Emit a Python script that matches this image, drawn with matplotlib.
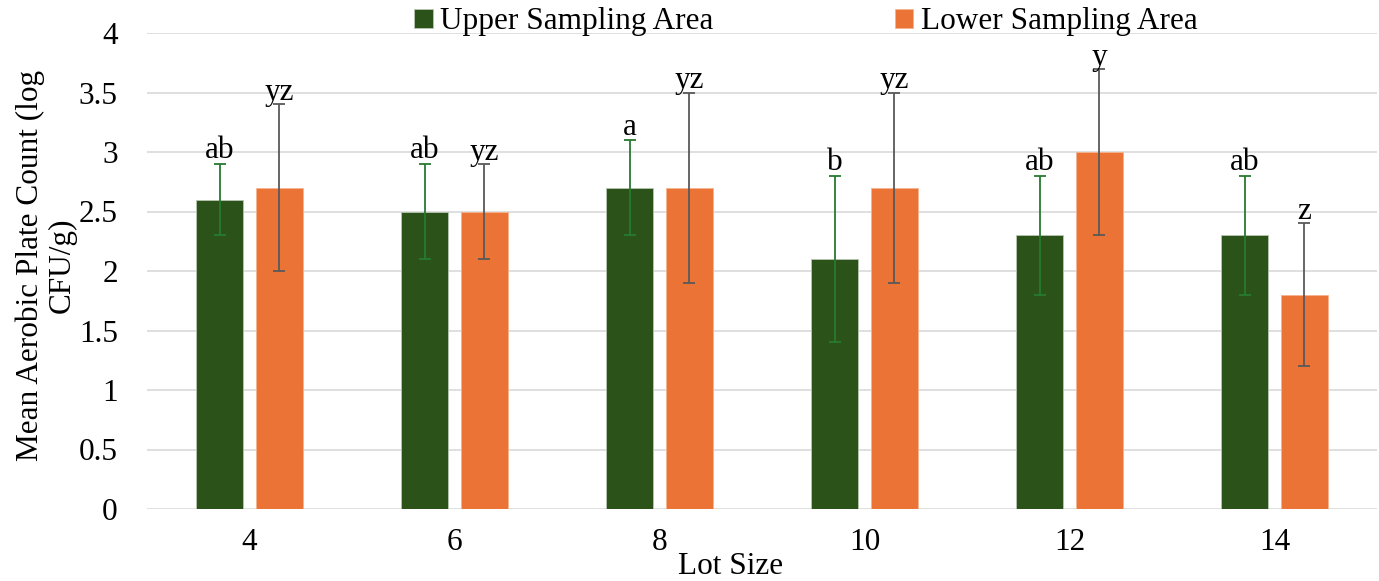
import numpy as np
import matplotlib
matplotlib.use("Agg")
import matplotlib.pyplot as plt
from matplotlib.patches import Patch
from matplotlib.ticker import FuncFormatter

lot_sizes = ["4", "6", "8", "10", "12", "14"]
upper_mean = [2.6, 2.5, 2.7, 2.1, 2.3, 2.3]
upper_err = [0.3, 0.4, 0.4, 0.7, 0.5, 0.5]
upper_letters = ["ab", "ab", "a", "b", "ab", "ab"]
lower_mean = [2.7, 2.5, 2.7, 2.7, 3.0, 1.8]
lower_err = [0.7, 0.4, 0.8, 0.8, 0.7, 0.6]
lower_letters = ["yz", "yz", "yz", "yz", "y", "z"]

GREEN = "#2A5219"
ORANGE = "#EA7335"
GREEN_ERR = "#267A2E"
GRAY_ERR = "#595959"
FS = 22.5

plt.rcParams["font.family"] = ["Liberation Serif", "DejaVu Serif"]

fig = plt.figure(figsize=(13.79, 5.81), dpi=100)
ax = fig.add_axes([147 / 1379, 72 / 581, 1230 / 1379, 476 / 581])

x = np.arange(len(lot_sizes))
w = 0.23
off = 0.145
ax.bar(x - off, upper_mean, w, color=GREEN, edgecolor="#B9C7B2", linewidth=0.6, zorder=2)
ax.bar(x + off, lower_mean, w, color=ORANGE, edgecolor="#F5B48E", linewidth=0.6, zorder=2)
ax.errorbar(x - off, upper_mean, yerr=upper_err, fmt="none", ecolor=GREEN_ERR,
            elinewidth=1.3, capsize=4.5, capthick=1.3, zorder=3)
ax.errorbar(x + off, lower_mean, yerr=lower_err, fmt="none", ecolor=GRAY_ERR,
            elinewidth=1.3, capsize=4.5, capthick=1.3, zorder=3)

# letras de significancia, justo encima del extremo superior
for xi, m, e, t in zip(x - off, upper_mean, upper_err, upper_letters):
    ax.annotate(t, (xi, m + e), xytext=(0, 4), textcoords="offset points",
                ha="center", va="baseline", fontsize=FS)
for xi, m, e, t in zip(x + off, lower_mean, lower_err, lower_letters):
    ax.annotate(t, (xi, m + e), xytext=(0, 3), textcoords="offset points",
                ha="center", va="baseline", fontsize=FS)

ax.set_xlim(-0.5, len(lot_sizes) - 0.5)
ax.set_ylim(0, 4)
ax.set_yticks(np.arange(0, 4.01, 0.5))
ax.yaxis.set_major_formatter(FuncFormatter(lambda v, p: f"{v:g}"))
ax.set_xticks(x)
ax.set_xticklabels(lot_sizes)
ax.tick_params(axis="both", length=0, labelsize=FS)
ax.tick_params(axis="y", pad=21)
ax.tick_params(axis="x", pad=14)
ax.grid(axis="y", color="#D9D9D9", linewidth=1.2)
ax.set_axisbelow(True)
for s in ax.spines.values():
    s.set_visible(False)

fig.text(46 / 1379, 1 - 265 / 581, "Mean Aerobic Plate Count (log\nCFU/g)",
         rotation=90, ha="center", va="center", multialignment="center",
         fontsize=FS, linespacing=1.15)
fig.text(731 / 1379, 1 - 567 / 581, "Lot Size", ha="center", va="center", fontsize=FS)

handles = [Patch(facecolor=GREEN, edgecolor="#B9C7B2", linewidth=0.6),
           Patch(facecolor=ORANGE, edgecolor="#F5B48E", linewidth=0.6)]
fig.legend(handles, ["Upper Sampling Area", "Lower Sampling Area"], ncol=2,
           loc="center", bbox_to_anchor=(806 / 1379, 1 - 22 / 581), frameon=False,
           fontsize=FS, handlelength=0.58, handleheight=0.6, handletextpad=0.25,
           columnspacing=5.8, borderpad=0, borderaxespad=0)

fig.savefig("out.png", dpi=100)
